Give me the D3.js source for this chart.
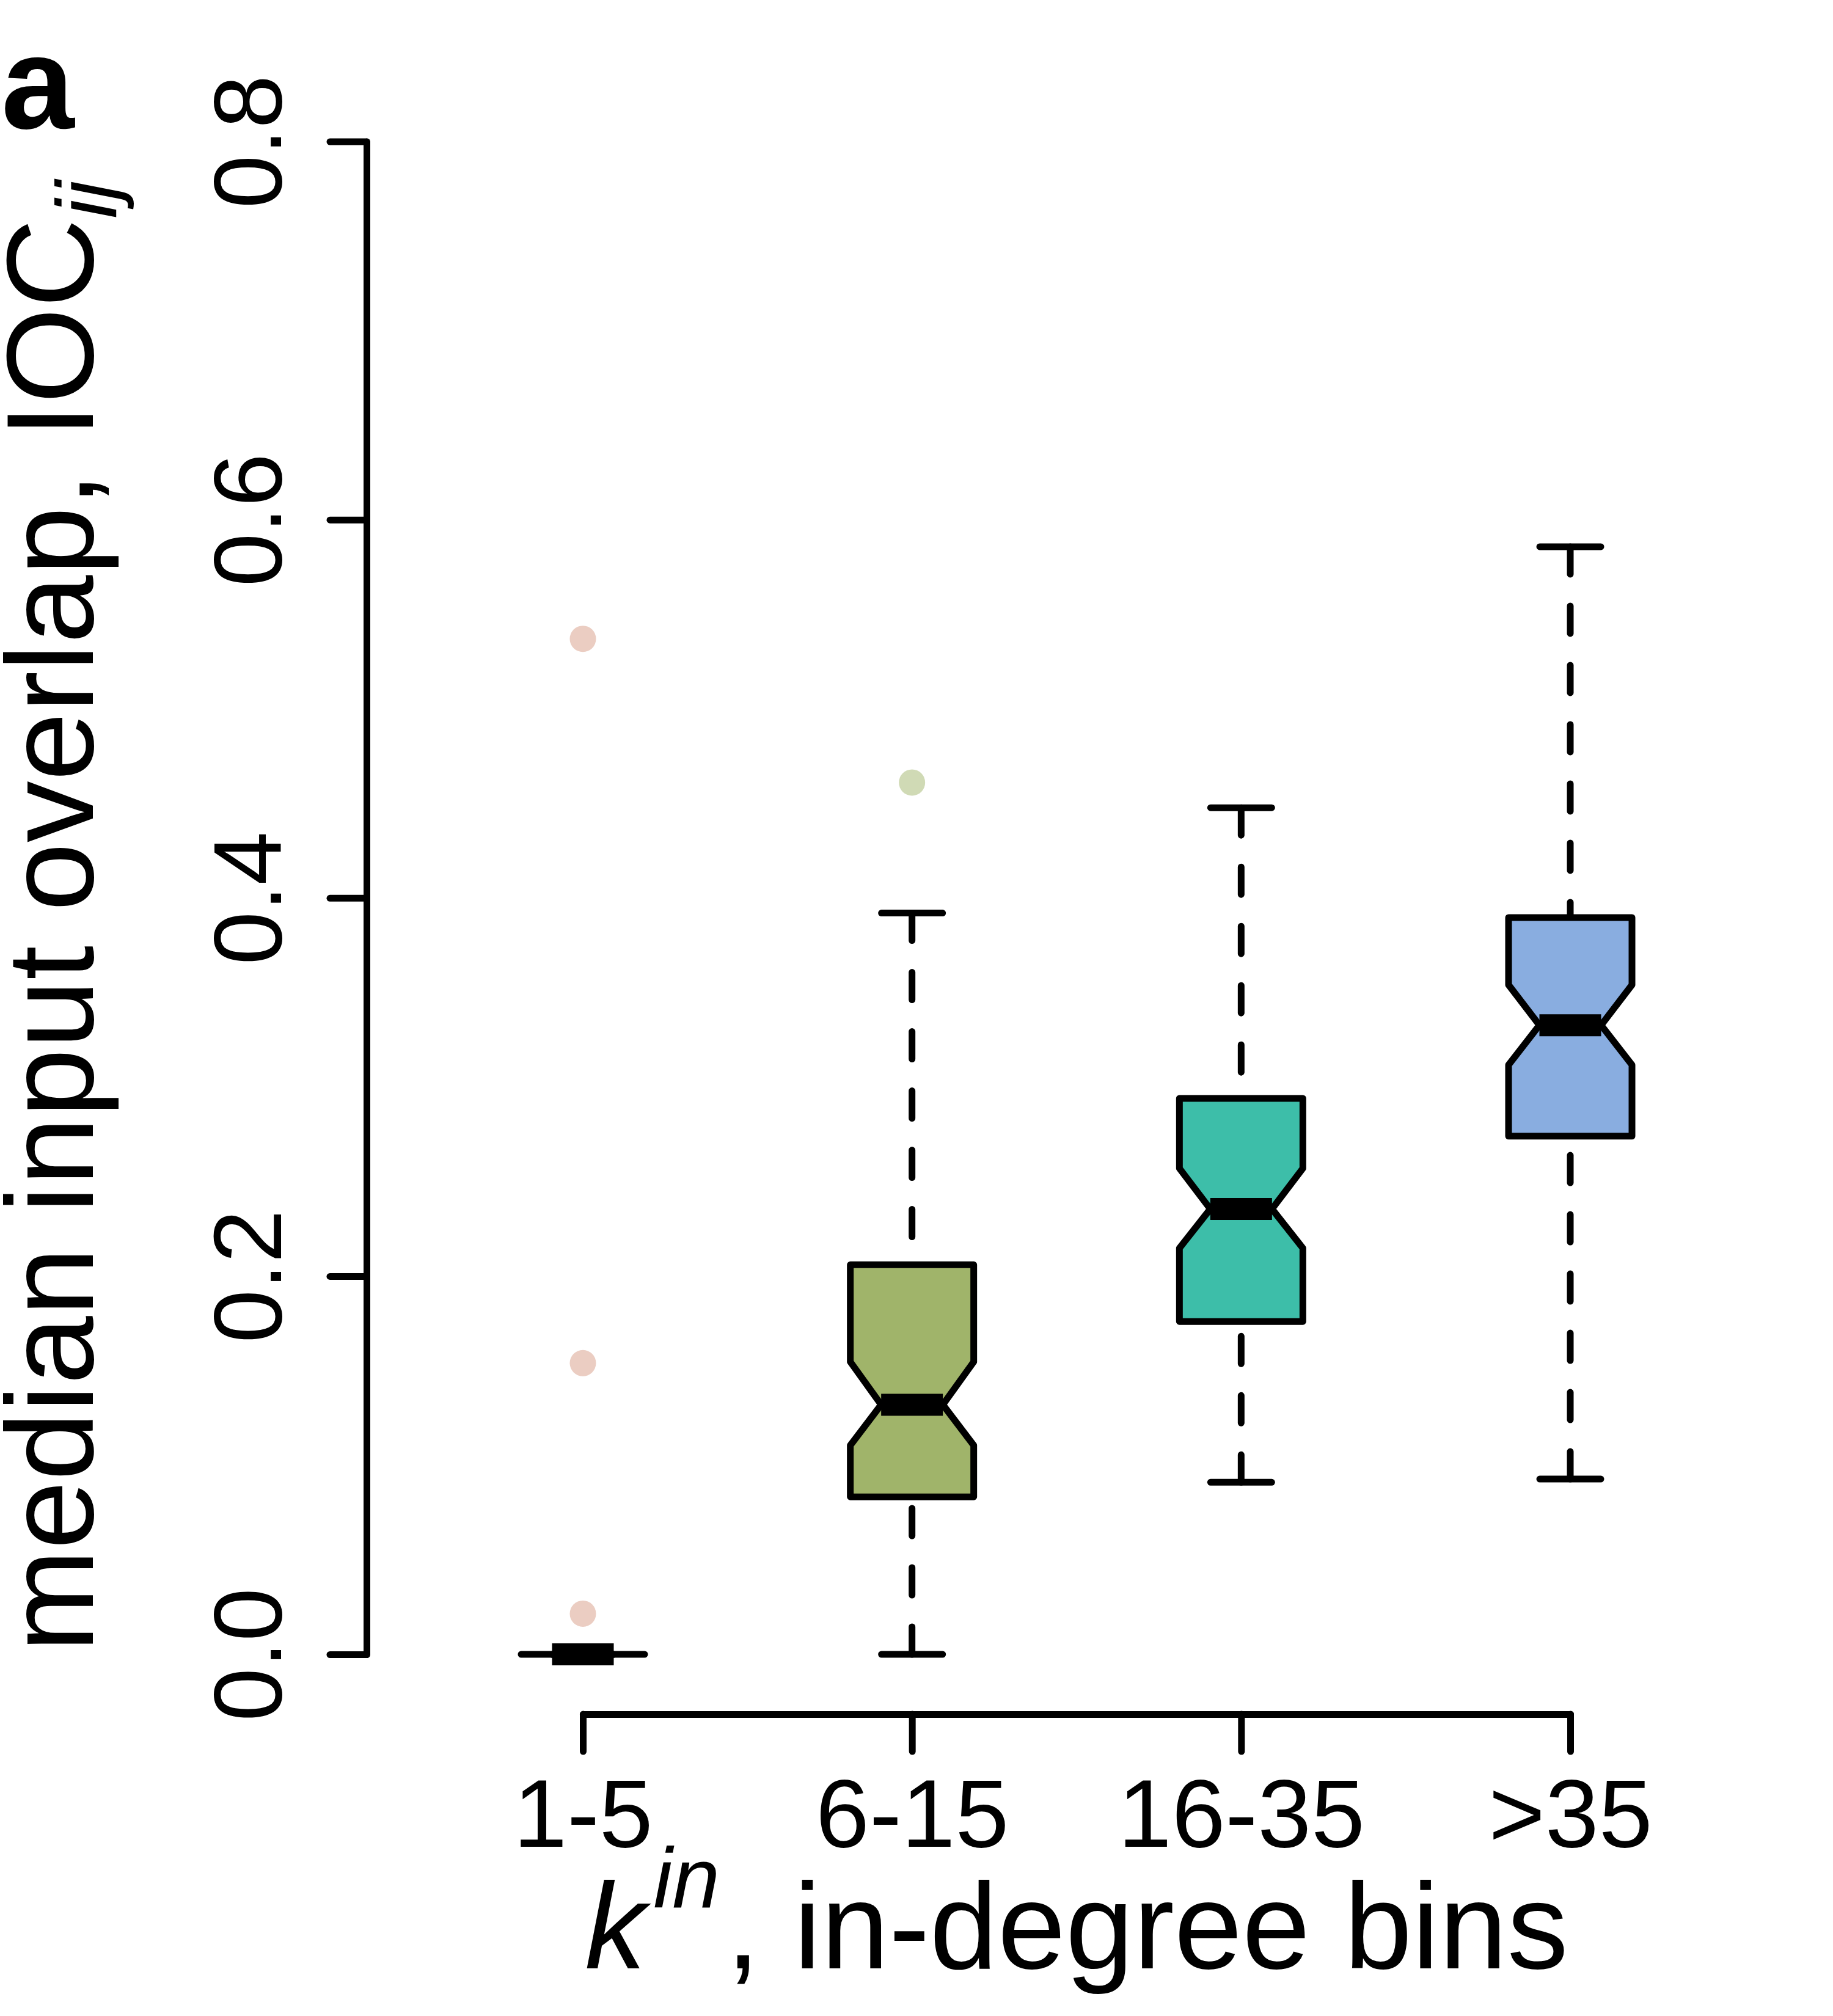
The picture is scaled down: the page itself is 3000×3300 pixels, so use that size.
<!DOCTYPE html>
<html>
<head>
<meta charset="utf-8">
<script src="https://cdn.jsdelivr.net/npm/d3@7"></script>
<style>
  body { margin: 0; background: #fff; }
  text { font-family: "Liberation Sans", Arial, sans-serif; }
</style>
</head>
<body>
<div id="chart"></div>
<script>
// boxplot stats
const categories = ["1-5", "6-15", "16-35", ">35"];
const whiskerLow = [0, 0, 0.091, 0.0927];
const q1 = [0, 0.0833, 0.176, 0.274];
const medians = [0, 0.132, 0.2355, 0.3327];
const q3 = [0, 0.206, 0.294, 0.3896];
const whiskerHigh = [0, 0.392, 0.4477, 0.5857];
const notchLow = [0, 0.1105, 0.2148, 0.3117];
const notchHigh = [0, 0.1547, 0.257, 0.354];
const outliers = [[0.537, 0.154, 0.0215], [0.461], [], []];
const boxFills = ["#ebcdc2", "#a0b46a", "#3dbea9", "#89ade0"];
const pointFills = ["#ebcdc2", "#d0dab5", "#a8e0d5", "#c8d8f0"];
const yTicks = [0, 0.2, 0.4, 0.6, 0.8];

const width = 3000, height = 3300;
const lw = 11;
const boxHalf = 101, stapleHalf = 50;

const svg = d3.select("#chart").append("svg")
  .attr("width", width)
  .attr("height", height);

svg.append("rect").attr("width", width).attr("height", height).attr("fill", "#fff");

const y = d3.scaleLinear().domain([0, 0.8]).range([2708, 231.6]);
const x = d3.scalePoint().domain(categories).range([954, 2570]);

const data = categories.map((c, i) => ({
  cat: c, lo: whiskerLow[i], q1: q1[i], med: medians[i], q3: q3[i], hi: whiskerHigh[i],
  nlo: notchLow[i], nhi: notchHigh[i], out: outliers[i], fill: boxFills[i], pfill: pointFills[i]
}));

// y axis
const yAxis = d3.axisLeft(y).tickValues(yTicks).tickFormat(d3.format(".1f"))
  .tickSize(60).tickSizeOuter(0).tickPadding(0);
const gy = svg.append("g").attr("transform", "translate(600,0)").call(yAxis);
gy.select(".domain").attr("stroke", "#000").attr("stroke-width", lw).attr("stroke-linecap", "round");
gy.selectAll(".tick line").attr("stroke", "#000").attr("stroke-width", lw).attr("stroke-linecap", "round");
gy.selectAll(".tick text")
  .attr("transform", "rotate(-90)")
  .attr("x", 0).attr("y", -140).attr("dy", 0)
  .attr("text-anchor", "middle")
  .attr("fill", "#000")
  .style("font-size", "157px")
  .style("font-family", "'Liberation Sans', Arial, sans-serif");

// x axis
const xAxis = d3.axisBottom(x).tickSize(61).tickSizeOuter(0).tickPadding(0);
const gx = svg.append("g").attr("transform", "translate(0,2806)").call(xAxis);
gx.select(".domain").attr("stroke", "#000").attr("stroke-width", lw).attr("stroke-linecap", "round");
gx.selectAll(".tick line").attr("stroke", "#000").attr("stroke-width", lw).attr("stroke-linecap", "round");
gx.selectAll(".tick text")
  .attr("y", 217).attr("dy", 0)
  .attr("fill", "#000")
  .style("font-size", "158px")
  .style("font-family", "'Liberation Sans', Arial, sans-serif");

// boxes
const boxes = svg.append("g").selectAll("g").data(data).enter().append("g");

// whiskers, drawn from the end towards the hinge
boxes.selectAll("line.whisker")
  .data(d => [[d.hi, d.q3], [d.lo, d.q1]].map(p => ({ c: d.cat, a: p[0], b: p[1] })))
  .enter().append("line")
  .attr("class", "whisker")
  .attr("x1", d => x(d.c)).attr("x2", d => x(d.c))
  .attr("y1", d => y(d.a)).attr("y2", d => y(d.b))
  .attr("stroke", "#000").attr("stroke-width", lw)
  .attr("stroke-dasharray", "45,52").attr("stroke-linecap", "round");

boxes.selectAll("line.staple")
  .data(d => [d.hi, d.lo].map(v => ({ c: d.cat, v: v })))
  .enter().append("line")
  .attr("class", "staple")
  .attr("x1", d => x(d.c) - stapleHalf).attr("x2", d => x(d.c) + stapleHalf)
  .attr("y1", d => y(d.v)).attr("y2", d => y(d.v))
  .attr("stroke", "#000").attr("stroke-width", lw).attr("stroke-linecap", "round");

// notched box
boxes.append("path")
  .attr("d", d => {
    const cx = x(d.cat), w = boxHalf;
    const pts = [
      [cx - w, y(d.q1)], [cx - w, y(d.nlo)], [cx - w / 2, y(d.med)], [cx - w, y(d.nhi)], [cx - w, y(d.q3)],
      [cx + w, y(d.q3)], [cx + w, y(d.nhi)], [cx + w / 2, y(d.med)], [cx + w, y(d.nlo)], [cx + w, y(d.q1)]
    ];
    return d3.line()(pts) + "Z";
  })
  .attr("fill", d => d.fill)
  .attr("stroke", "#000").attr("stroke-width", lw).attr("stroke-linejoin", "round");

// median bar
boxes.append("line")
  .attr("x1", d => x(d.cat) - boxHalf / 2).attr("x2", d => x(d.cat) + boxHalf / 2)
  .attr("y1", d => y(d.med)).attr("y2", d => y(d.med))
  .attr("stroke", "#000").attr("stroke-width", 36);

// outlier points
boxes.selectAll("circle")
  .data(d => d.out.map(v => ({ c: d.cat, v: v, f: d.pfill })))
  .enter().append("circle")
  .attr("cx", d => x(d.c)).attr("cy", d => y(d.v)).attr("r", 21.5)
  .attr("fill", d => d.f);

// axis titles
const xt = svg.append("text")
  .attr("x", 1762).attr("y", 3222)
  .attr("text-anchor", "middle")
  .style("font-size", "200px");
xt.append("tspan").style("font-style", "italic").text("k");
xt.append("tspan").style("font-style", "italic").style("font-size", "140px")
  .attr("dx", 12).attr("dy", -100).text("in");
xt.append("tspan").attr("dx", 10).attr("dy", 100).text(", in-degree bins");

const yt = svg.append("text")
  .attr("transform", "translate(152,1500) rotate(-90)")
  .attr("text-anchor", "middle")
  .style("font-size", "202px");
yt.append("tspan").text("median input overlap, IOC");
yt.append("tspan").style("font-style", "italic").style("font-size", "140px").attr("dy", 38).text("ij");

// panel letter
svg.append("text")
  .attr("x", 2).attr("y", 210)
  .style("font-size", "215px").style("font-weight", "bold")
  .text("a");
</script>
</body>
</html>
